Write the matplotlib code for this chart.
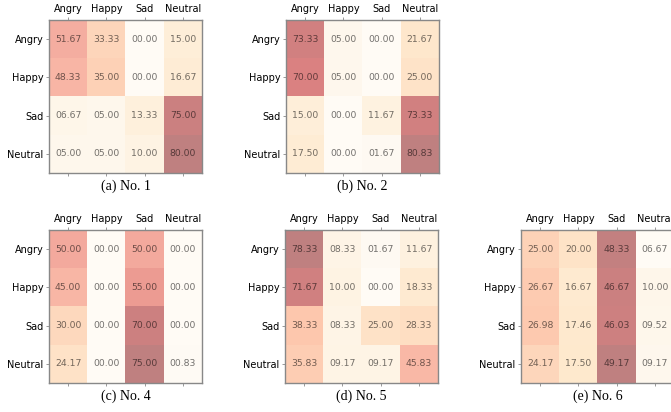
import numpy as np
import matplotlib.pyplot as plt

emotions = ['Angry', 'Happy', 'Sad', 'Neutral']

no1 = [[51.67, 33.33, 0.00, 15.00],
       [48.33, 35.00, 0.00, 16.67],
       [6.67, 5.00, 13.33, 75.00],
       [5.00, 5.00, 10.00, 80.00]]

no2 = [[73.33, 5.00, 0.00, 21.67],
       [70.00, 5.00, 0.00, 25.00],
       [15.00, 0.00, 11.67, 73.33],
       [17.50, 0.00, 1.67, 80.83]]

no4 = [[50.00, 0.00, 50.00, 0.00],
       [45.00, 0.00, 55.00, 0.00],
       [30.00, 0.00, 70.00, 0.00],
       [24.17, 0.00, 75.00, 0.83]]

no5 = [[78.33, 8.33, 1.67, 11.67],
       [71.67, 10.00, 0.00, 18.33],
       [38.33, 8.33, 25.00, 28.33],
       [35.83, 9.17, 9.17, 45.83]]

no6 = [[25.00, 20.00, 48.33, 6.67],
       [26.67, 16.67, 46.67, 10.00],
       [26.98, 17.46, 46.03, 9.52],
       [24.17, 17.50, 49.17, 9.17]]

captions = ['(a) No. 1', '(b) No. 2', '(c) No. 4', '(d) No. 5', '(e) No. 6']
matrices = [no1, no2, no4, no5, no6]

# axes rectangles in pixels (left, top), square cells
W, H = 671, 412
boxes = [(49, 20), (286, 20), (49, 230), (285, 230), (521, 230)]
size = 153

fig = plt.figure(figsize=(W / 100, H / 100), dpi=100)

for (x0, y0), mat, cap in zip(boxes, matrices, captions):
    ax = fig.add_axes([x0 / W, 1 - (y0 + size) / H, size / W, size / H])
    m = np.array(mat)
    ax.imshow(m, cmap='OrRd', alpha=0.5, aspect='auto')
    for i in range(4):
        for j in range(4):
            ax.text(j, i, '%05.2f' % m[i, j], ha='center', va='center',
                    fontsize=6.7, color='k', alpha=0.55)
    ax.set_xticks(range(4))
    ax.set_yticks(range(4))
    ax.set_xticklabels(emotions, fontsize=7)
    ax.set_yticklabels(emotions, fontsize=7)
    ax.tick_params(top=True, bottom=True, labeltop=True, labelbottom=False,
                   color='#888888', length=2.5, width=0.6, pad=1.5)
    for s in ax.spines.values():
        s.set_color('#888888')
        s.set_linewidth(1.0)
    ax.text(0.5, -0.045, cap, transform=ax.transAxes, ha='center', va='top',
            fontsize=10, family='Liberation Serif')

fig.savefig('out.png', dpi=100)
